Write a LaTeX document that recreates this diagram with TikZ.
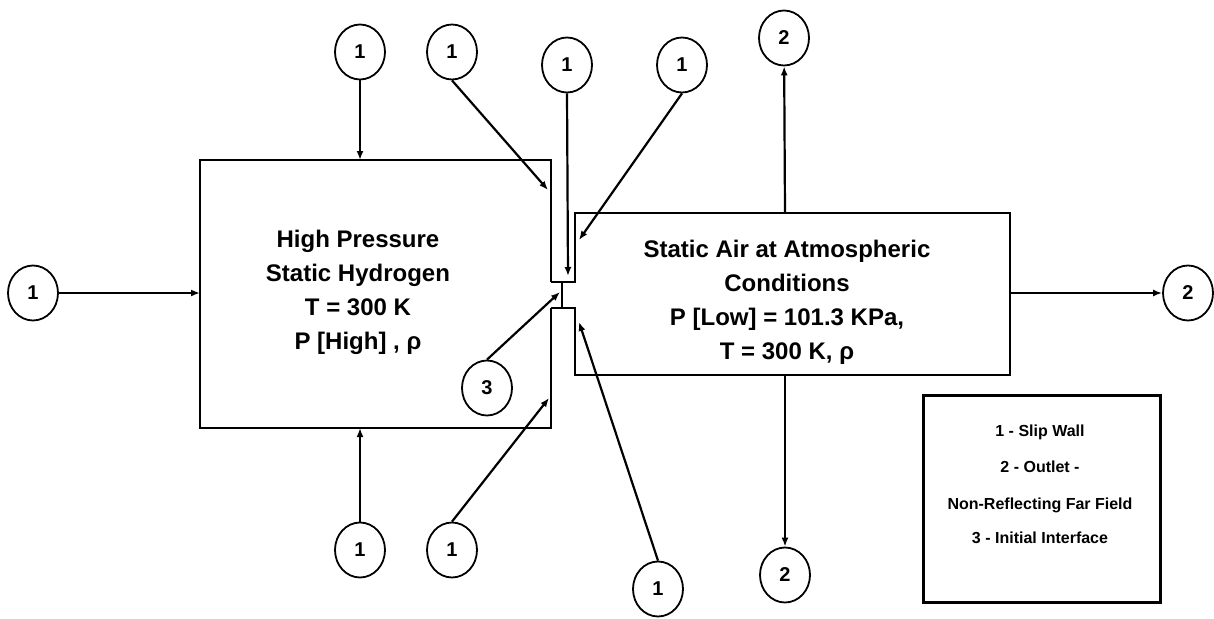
\documentclass[tikz,border=0pt]{standalone}
\usepackage{fontspec}
\setmainfont{Liberation Sans}
\usetikzlibrary{shapes.geometric,arrows.meta}
\begin{document}
\begin{tikzpicture}[x=1pt,y=-1pt,
  bc/.style={ellipse,draw,line width=1.8pt,minimum width=50pt,minimum height=55pt,inner sep=0pt,font=\fontsize{20}{20}\selectfont\bfseries},
  wall/.style={line width=2.8pt,line join=miter},
  arr/.style={line width=2.2pt,-{Latex[length=9pt,width=7pt]}},
  boxtext/.style={align=center,font=\fontsize{24}{34}\selectfont\bfseries},
  legtext/.style={font=\fontsize{16}{16}\selectfont\bfseries}]
\useasboundingbox (0,0) rectangle (1214,618);
% boxes and channel
\draw[wall] (551,282) -- (551,160) -- (200,160) -- (200,428) -- (551,428) -- (551,308);
\draw[wall] (551,282) -- (575,282) -- (575,213) -- (1010,213) -- (1010,375) -- (575,375) -- (575,308) -- (551,308);
\draw[wall] (562,282) -- (562,308);
% texts
\node[boxtext] (hp) at (358,292) {High Pressure\\Static Hydrogen\\T = 300 K\\P [High] , ρ};
\node[boxtext] (air) at (787,302) {Static Air at Atmospheric\\Conditions\\P [Low] = 101.3 KPa,\\T = 300 K, ρ};
% target coordinates
\coordinate (tL) at (200,293);
\coordinate (tTa) at (360,160);
\coordinate (tTb) at (548,190);
\coordinate (tTc) at (568,276);
\coordinate (tTd) at (579,240);
\coordinate (s2T) at (785,213);
\coordinate (s2R) at (1010,293);
\coordinate (s2B) at (785,375);
\coordinate (tBa) at (360,428);
\coordinate (tBb) at (549,398);
\coordinate (tBc) at (579,322);
\coordinate (t3) at (560,292);
% circles
\node[bc] (c1L) at (33,293) {1};
\node[bc] (c1Ta) at (360,52) {1};
\node[bc] (c1Tb) at (452,52) {1};
\node[bc] (c1Tc) at (567,65) {1};
\node[bc] (c1Td) at (682,65) {1};
\node[bc] (c2T) at (784,38) {2};
\node[bc] (c2R) at (1188,293) {2};
\node[bc] (c2B) at (785,575) {2};
\node[bc] (c1Ba) at (360,550) {1};
\node[bc] (c1Bb) at (452,550) {1};
\node[bc] (c1Bc) at (658,589) {1};
\node[bc] (c3) at (487,388) {3};
% connectors
\draw[arr] (c1L) -- (tL);
\draw[arr] (c1Ta) -- (tTa);
\draw[arr] (c1Tb.south) -- (tTb);
\draw[arr] (c1Tc.south) -- (tTc);
\draw[arr] (c1Td.south) -- (tTd);
\draw[arr] (s2T) -- (c2T);
\draw[arr] (s2R) -- (c2R);
\draw[arr] (s2B) -- (c2B);
\draw[arr] (c1Ba) -- (tBa);
\draw[arr] (c1Bb.north) -- (tBb);
\draw[arr] (c1Bc.north) -- (tBc);
\draw[arr] (c3.north) -- (t3);
% legend
\draw[line width=3pt] (923,395) rectangle (1160,602);
\node[legtext] (l1) at (1040,432) {1 - Slip Wall};
\node[legtext] (l2) at (1040,467) {2 - Outlet -};
\node[legtext] (l3) at (1040,505) {Non-Reflecting Far Field};
\node[legtext] (l4) at (1040,538) {3 - Initial Interface};
\end{tikzpicture}
\end{document}
